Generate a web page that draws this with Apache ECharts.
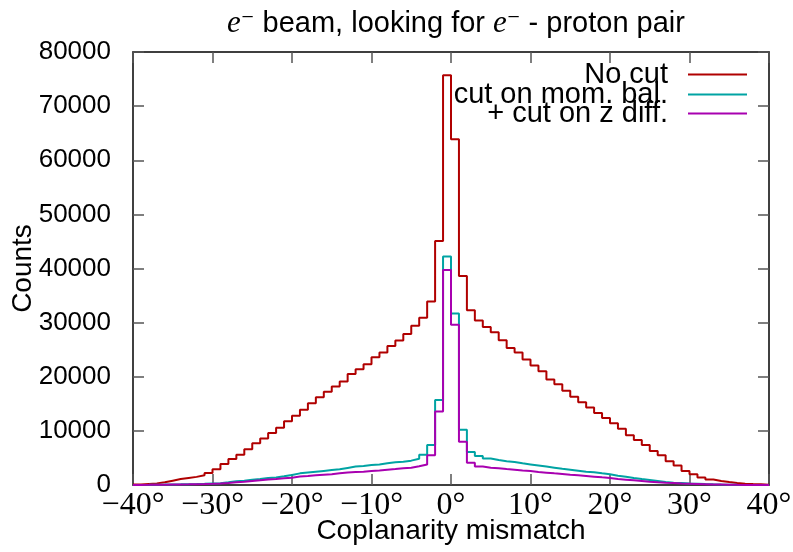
<!DOCTYPE html>
<html>
<head>
<meta charset="utf-8">
<script src="https://cdn.jsdelivr.net/npm/echarts@6/dist/echarts.min.js"></script>
<style>html,body{margin:0;padding:0;background:#fff;}#c{width:793px;height:552px;}</style>
</head>
<body>
<div id="c"></div>
<script>
// Bin left edges (1 degree bins from -40 to 40)
const binStart = -40;
const binWidth = 1;
const xTickLabels = ['\u221240\u00b0','\u221230\u00b0','\u221220\u00b0','\u221210\u00b0','0\u00b0','10\u00b0','20\u00b0','30\u00b0','40\u00b0'];
const seriesNames = ['No cut', 'cut on mom. bal.', '+ cut on z diff.'];

const noCut = [100,200,300,500,800,1100,1300,1500,1800,2200,
  2900,3900,4800,5600,6600,7700,8600,9600,10600,11800,
  12800,13900,15100,16200,17250,18200,19100,20500,21400,22300,
  23600,24500,25700,26700,27900,29400,30900,33900,45100,75700,
  63900,38600,32300,30400,29200,28200,26750,25300,24500,23200,
  22100,21000,19500,18600,17400,16300,15300,14300,13300,12400,
  11400,10400,9200,8300,7400,6300,5500,4400,3600,2600,
  2000,1400,1000,740,550,370,250,180,120,60];

const momBal = [20,30,50,70,100,120,150,180,220,280,
  330,500,680,800,980,1100,1300,1400,1600,1850,
  2150,2300,2450,2600,2750,2900,3150,3400,3500,3700,
  3800,4000,4200,4300,4500,4850,5600,7400,15700,42200,
  31700,10200,6100,5350,4900,4600,4400,4250,4000,3800,
  3600,3400,3200,3000,2830,2650,2460,2340,2150,1970,
  1720,1540,1300,1100,920,740,550,430,370,300,
  250,180,120,80,50,30,20,15,10,5];

const zDiff = [15,25,40,60,80,100,120,150,180,220,
  280,380,500,600,740,860,1000,1100,1230,1350,
  1550,1660,1780,1900,2000,2150,2300,2400,2460,2600,
  2700,2830,2950,3100,3200,3450,3800,5500,13600,39700,
  29600,8000,4100,3400,3200,3100,2950,2830,2700,2580,
  2400,2280,2150,2030,1900,1780,1660,1540,1410,1300,
  1100,980,860,740,600,500,430,370,300,250,
  200,150,100,80,50,30,20,15,10,5];

const colors = ['#b00000', '#00a3a3', '#a800b0'];

function steps(vals) {
  const d = vals.map((v, i) => [binStart + i * binWidth, v]);
  d.push([binStart + vals.length * binWidth, vals[vals.length - 1]]);
  return d;
}

const sans = 'Liberation Sans';
const serif = 'Liberation Serif';

const chart = echarts.init(document.getElementById('c'), null, {renderer: 'canvas'});

const frame = {show: true, onZero: false, lineStyle: {color: '#000', width: 1.5}};
const tick = {show: true, inside: true, length: 11, lineStyle: {color: '#555', width: 1.5}};

function legendFor(i, top) {
  return {
    data: [{name: seriesNames[i], icon: 'rect', itemStyle: {color: colors[i]}}],
    right: 46, top: top, orient: 'vertical', align: 'right',
    itemWidth: 59, itemHeight: 2, padding: 0, selectedMode: false,
    formatter: n => n + '{s|}',
    textStyle: {fontFamily: sans, fontSize: 29, color: '#000', rich: {s: {width: 15}}}
  };
}

chart.setOption({
  animation: false,
  backgroundColor: '#fff',
  title: {
    text: '{it|e}{sup|\u207b} beam, looking for {it|e}{sup|\u207b} - proton pair',
    left: 451, top: 3, textAlign: 'center',
    textStyle: {
      fontFamily: sans, fontSize: 29, fontWeight: 'normal', color: '#000',
      rich: {
        it: {fontFamily: serif, fontStyle: 'italic', fontSize: 31, color: '#000'},
        sup: {fontFamily: 'DejaVu Sans', fontSize: 26, color: '#000'}
      }
    }
  },
  legend: [legendFor(0, 60), legendFor(1, 80), legendFor(2, 99)],
  grid: {left: 133, right: 24, top: 52, bottom: 67, containLabel: false, outerBoundsMode: 'none'},
  xAxis: [{
    type: 'value', min: -40, max: 40, interval: 10, position: 'bottom',
    axisLine: frame, axisTick: tick, splitLine: {show: false},
    axisLabel: {
      formatter: v => xTickLabels[Math.round((v + 40) / 10)],
      fontFamily: serif, fontSize: 32, color: '#000', margin: 5
    },
    name: 'Coplanarity mismatch', nameLocation: 'middle', nameGap: 32, nameMoveOverlap: false,
    nameTextStyle: {fontFamily: sans, fontSize: 28, color: '#000'}
  }, {
    type: 'value', min: -40, max: 40, interval: 10, position: 'top',
    axisLine: frame, axisTick: tick, axisLabel: {show: false}, splitLine: {show: false}
  }],
  yAxis: [{
    type: 'value', min: 0, max: 80000, interval: 10000, position: 'left',
    axisLine: frame, axisTick: tick, splitLine: {show: false},
    axisLabel: {formatter: v => String(v), fontFamily: sans, fontSize: 26, color: '#000', margin: 22},
    name: 'Counts', nameLocation: 'middle', nameGap: 96, nameRotate: 90, nameMoveOverlap: false,
    nameTextStyle: {fontFamily: sans, fontSize: 28, color: '#000'}
  }, {
    type: 'value', min: 0, max: 80000, interval: 10000, position: 'right',
    axisLine: frame, axisTick: tick, axisLabel: {show: false}, splitLine: {show: false}
  }],
  series: [noCut, momBal, zDiff].map((vals, i) => ({
    name: seriesNames[i], type: 'line', step: 'end', data: steps(vals),
    showSymbol: false, symbol: 'none', color: colors[i],
    lineStyle: {color: colors[i], width: 2}, z: 2 + i
  }))
});
</script>
</body>
</html>
